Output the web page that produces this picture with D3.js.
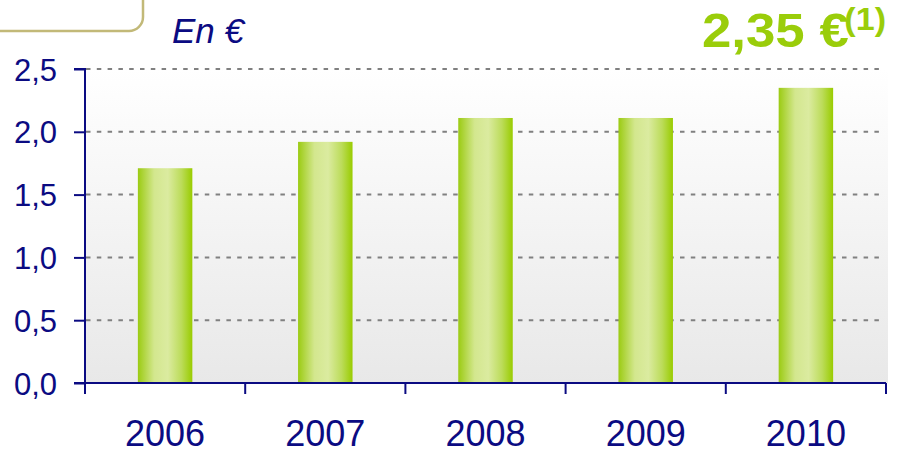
<!DOCTYPE html>
<html>
<head>
<meta charset="utf-8">
<script src="https://cdn.jsdelivr.net/npm/d3@7"></script>
<style>
  body { margin: 0; background: #fff; }
  svg { display: block; font-family: Arial, "Liberation Sans", sans-serif; }
</style>
</head>
<body>
<div id="chart"></div>
<script>
// data
const years = ["2006", "2007", "2008", "2009", "2010"];
const values = [1.71, 1.92, 2.11, 2.11, 2.35];
const yTicks = [0, 0.5, 1.0, 1.5, 2.0, 2.5];
const unitLabel = "En €";
const headline = "2,35 €";
const headlineNote = "(1)";

const chart = { width: 897, height: 449 };
chart.margin = { top: 69, right: 11, bottom: 66, left: 85 };
chart.innerWidth = chart.width - chart.margin.left - chart.margin.right;
chart.innerHeight = chart.height - chart.margin.top - chart.margin.bottom;

const navy = "#0b0b82";
const green = "#9acd0a";

const svg = d3.select("#chart")
  .append("svg")
  .attr("width", chart.width)
  .attr("height", chart.height);

const defs = svg.append("defs");

// plot background: white at top fading to light grey
const bg = defs.append("linearGradient")
  .attr("id", "bg").attr("x1", 0).attr("y1", 0).attr("x2", 0).attr("y2", 1);
bg.append("stop").attr("offset", "0%").attr("stop-color", "#ffffff");
bg.append("stop").attr("offset", "100%").attr("stop-color", "#e8e8e8");

// bars: green edges, pale centre
const barGrad = defs.append("linearGradient")
  .attr("id", "bar").attr("x1", 0).attr("y1", 0).attr("x2", 1).attr("y2", 0);
barGrad.append("stop").attr("offset", "0%").attr("stop-color", "#9bcb12");
barGrad.append("stop").attr("offset", "30%").attr("stop-color", "#d3e78e");
barGrad.append("stop").attr("offset", "55%").attr("stop-color", "#dbeba0");
barGrad.append("stop").attr("offset", "80%").attr("stop-color", "#bcdc5a");
barGrad.append("stop").attr("offset", "100%").attr("stop-color", "#99cc00");

// rounded frame in the top-left corner (partially off the page)
svg.append("rect")
  .attr("x", -40).attr("y", -40)
  .attr("width", 183).attr("height", 71)
  .attr("rx", 14).attr("ry", 14)
  .attr("fill", "none")
  .attr("stroke", "#c2b978")
  .attr("stroke-width", 2.5);

const g = svg.append("g")
  .attr("transform", `translate(${chart.margin.left}, ${chart.margin.top})`);

const x = d3.scaleBand().domain(years).range([0, chart.innerWidth]).padding(0);
const y = d3.scaleLinear().domain([0, 2.5]).range([chart.innerHeight, 0]);

g.append("rect")
  .attr("x", 0).attr("y", 0)
  .attr("width", chart.innerWidth + 2)
  .attr("height", chart.innerHeight)
  .attr("fill", "url(#bg)");

// dashed gridlines
g.append("g")
  .selectAll("line")
  .data(yTicks.filter(d => d > 0))
  .join("line")
  .attr("x1", 1).attr("x2", chart.innerWidth - 6)
  .attr("y1", d => y(d)).attr("y2", d => y(d))
  .attr("stroke", "#808080")
  .attr("stroke-width", 2)
  .attr("stroke-dasharray", "4.5,6.3");

// bars
const barW = x.bandwidth() * 0.34;
g.append("g")
  .selectAll("rect")
  .data(values)
  .join("rect")
  .attr("x", (d, i) => x(years[i]) + x.bandwidth() / 2 - barW / 2)
  .attr("y", d => y(d))
  .attr("width", barW)
  .attr("height", d => chart.innerHeight - y(d))
  .attr("fill", "url(#bar)");

// y axis
const yAxis = g.append("g")
  .call(d3.axisLeft(y).tickValues(yTicks).tickSize(11).tickPadding(17)
    .tickFormat(d => d3.format(".1f")(d).replace(".", ",")));
yAxis.select(".domain").attr("stroke", navy).attr("stroke-width", 2)
  .attr("d", `M-11,0H0V${chart.innerHeight}H-11`);
yAxis.selectAll(".tick line").attr("stroke", navy).attr("stroke-width", 2);
yAxis.selectAll(".tick text")
  .attr("fill", navy)
  .style("font-size", "31px")
  .attr("dy", "0.36em");

// x axis: ticks sit on band boundaries
const xAxis = g.append("g").attr("transform", `translate(0, ${chart.innerHeight})`);
xAxis.append("line")
  .attr("x1", 0).attr("x2", chart.innerWidth)
  .attr("stroke", navy).attr("stroke-width", 2);
xAxis.selectAll("line.tick")
  .data(years.map(d => x(d)).concat([chart.innerWidth]))
  .join("line")
  .attr("class", "tick")
  .attr("x1", d => d).attr("x2", d => d)
  .attr("y1", 0).attr("y2", 11)
  .attr("stroke", navy).attr("stroke-width", 2);
xAxis.selectAll("text")
  .data(years)
  .join("text")
  .attr("x", d => x(d) + x.bandwidth() / 2)
  .attr("y", 63)
  .attr("text-anchor", "middle")
  .attr("fill", navy)
  .style("font-size", "36px")
  .text(d => d);

// unit label
svg.append("text")
  .attr("x", 172).attr("y", 43)
  .attr("fill", navy)
  .style("font-size", "35px")
  .style("font-style", "italic")
  .text(unitLabel);

// headline value with note marker
const head = svg.append("text")
  .attr("transform", "translate(702, 47) scale(1.1, 1)")
  .attr("fill", green)
  .style("font-weight", "bold")
  .style("font-size", "48px");
head.append("tspan").text(headline);
head.append("tspan")
  .attr("dx", -4)
  .attr("dy", -17)
  .style("font-size", "31px")
  .text(headlineNote);
</script>
</body>
</html>
